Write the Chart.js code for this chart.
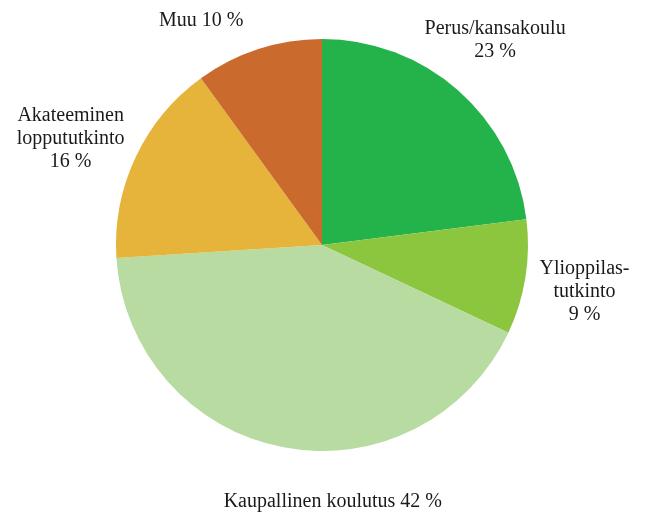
<!DOCTYPE html>
<html>
<head>
<meta charset="utf-8">
<script src="https://cdn.jsdelivr.net/npm/chart.js@4"></script>
<style>
html,body{margin:0;padding:0;background:#fff;}
#wrap{width:647px;height:515px;position:relative;}
</style>
</head>
<body>
<div id="wrap"><canvas id="c" width="647" height="515"></canvas></div>
<script>
const categories = ["Perus/kansakoulu", "Ylioppilastutkinto", "Kaupallinen koulutus", "Akateeminen loppututkinto", "Muu"];
const values = [23, 9, 42, 16, 10];
const labelLines = [
  ["Perus/kansakoulu", "23 %"],
  ["Ylioppilas-", "tutkinto", "9 %"],
  ["Kaupallinen koulutus 42 %"],
  ["Akateeminen", "loppututkinto", "16 %"],
  ["Muu 10 %"]
];
const colors = ["#24b34b", "#8cc63f", "#b7dba0", "#e6b43a", "#cb6a2d"];
// label nudges (px) relative to radial anchor at 1.3 × radius
const nudges = [[-4,-4],[-2,5],[61,-6],[-9,8],[-38,30]];

const labelPlugin = {
  id: 'outerLabels',
  afterDatasetsDraw(chart) {
    const ctx = chart.ctx;
    const meta = chart.getDatasetMeta(0);
    ctx.save();
    ctx.font = '20px "Liberation Serif", serif';
    ctx.fillStyle = '#1a1a1a';
    ctx.textAlign = 'center';
    ctx.textBaseline = 'middle';
    const lh = 23;
    meta.data.forEach((arc, i) => {
      const p = arc.getProps(['x','y','startAngle','endAngle','outerRadius'], true);
      const mid = (p.startAngle + p.endAngle) / 2;
      const r = p.outerRadius * 1.3;
      const cx = p.x + Math.cos(mid) * r + nudges[i][0];
      const cy = p.y + Math.sin(mid) * r + nudges[i][1];
      const lines = labelLines[i];
      const y0 = cy - (lines.length - 1) * lh / 2;
      lines.forEach((t, k) => ctx.fillText(t, cx, y0 + k * lh));
    });
    ctx.restore();
  }
};

new Chart(document.getElementById('c'), {
  type: 'pie',
  data: {
    labels: categories,
    datasets: [{ data: values, backgroundColor: colors, borderWidth: 0 }]
  },
  options: {
    responsive: false,
    animation: false,
    layout: { padding: { top: 39, bottom: 64, left: 116, right: 119 } },
    plugins: { legend: { display: false }, tooltip: { enabled: false } }
  },
  plugins: [labelPlugin]
});
</script>
</body>
</html>
